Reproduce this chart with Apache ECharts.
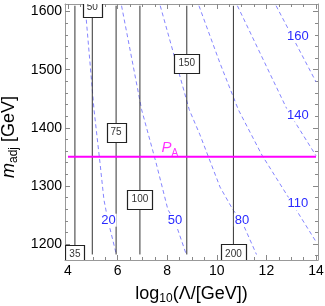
<!DOCTYPE html>
<html><head><meta charset="utf-8">
<script src="https://cdn.jsdelivr.net/npm/echarts@6/dist/echarts.min.js"></script>
<style>html,body{margin:0;padding:0;background:#fff}#c{width:325px;height:306px}</style>
</head><body><div id="c"></div>
<script>
// ---- axes ----
const xRange = [3.88, 14.08];
const yRange = [1172.5, 1613];
const xTicks = [4, 6, 8, 10, 12, 14];
const xMinorTicks = [4, 4.5, 5, 5.5, 6, 6.5, 7, 7.5, 8, 8.5, 9, 9.5, 10, 10.5, 11, 11.5, 12, 12.5, 13, 13.5, 14];
const yTicks = [1200, 1300, 1400, 1500, 1600];
const yMinorTicks = [1180, 1200, 1220, 1240, 1260, 1280, 1300, 1320, 1340, 1360, 1380, 1400, 1420, 1440, 1460, 1480, 1500, 1520, 1540, 1560, 1580, 1600];

// ---- black vertical contours (labelled boxes) ----
const contourLevels = ['35', '50', '75', '100', '150', '200'];
const contourX = [4.28, 4.98, 5.94, 6.90, 8.79, 10.67];
const contourSpan = [1182, 1610];
const boxY = [1182, 1607, 1392, 1277, 1511, 1183];

// ---- blue dashed contours ----
const c20x = [4.69, 5.05, 5.29, 5.45, 5.61, 5.95];
const c20y = [1610, 1431, 1340, 1276, 1241, 1182];
const c50x = [6.16, 6.97, 7.55, 8.03, 8.32, 8.77];
const c50y = [1610, 1431, 1340, 1259, 1238, 1182];
const c80x = [7.72, 8.89, 9.32, 10.13, 10.65, 11.02, 11.60];
const c80y = [1610, 1431, 1388, 1298, 1259, 1238, 1182];
const c110x = [9.28, 10.13, 10.87, 11.82, 12.95, 14.0];
const c110y = [1610, 1511, 1431, 1353, 1276, 1204];
const c140x = [10.83, 12.84, 14.0];
const c140y = [1610, 1431, 1352];
const c160x = [12.39, 14.0];
const c160y = [1610, 1479];
const dashLevels = ['20', '50', '80', '110', '140', '160'];
const dashLabelX = [5.63, 8.31, 11.02, 13.27, 13.27, 13.27];
const dashLabelY = [1241, 1241, 1241, 1269, 1422, 1557];

// ---- P_A line ----
const paX = [4, 14];
const paY = 1350;
const paLabelPos = [8.11, 1365];

const FONT = '"Liberation Sans", Arial, sans-serif';
const frameColor = '#999';

function zip(xs, ys) { return xs.map((x, i) => [x, ys[i]]); }

const dashCurves = [[c20x, c20y], [c50x, c50y], [c80x, c80y], [c110x, c110y], [c140x, c140y], [c160x, c160y]];

const series = [];
dashCurves.forEach(([xs, ys]) => {
  series.push({
    type: 'line', data: zip(xs, ys), showSymbol: false, symbol: 'none', silent: true,
    lineStyle: { color: '#8585ff', width: 1, type: [4, 3] }, z: 2
  });
});
contourX.forEach(x => {
  series.push({
    type: 'line', data: [[x, contourSpan[0]], [x, contourSpan[1]]], showSymbol: false, symbol: 'none', silent: true,
    lineStyle: { color: '#333', width: 1 }, z: 3
  });
});
series.push({
  type: 'line', data: [[paX[0], paY], [paX[1], paY]], showSymbol: false, symbol: 'none', silent: true,
  lineStyle: { color: '#ff00ff', width: 2 }, z: 4
});
// blue labels
series.push({
  type: 'custom', z: 5, silent: true,
  data: zip(dashLabelX, dashLabelY),
  renderItem: function (params, api) {
    const p = api.coord([api.value(0), api.value(1)]);
    const t = dashLevels[params.dataIndex];
    return {
      type: 'text', x: p[0], y: p[1],
      style: { text: t, fill: '#2a2aff', font: '13px ' + FONT, align: 'center', verticalAlign: 'middle',
               textAlign: 'center', textVerticalAlign: 'middle', backgroundColor: '#fff', padding: [0, 1] }
    };
  }
});
// boxed labels
series.push({
  type: 'custom', z: 6, silent: true, clip: true,
  data: zip(contourX, boxY),
  renderItem: function (params, api) {
    const p = api.coord([api.value(0), api.value(1)]);
    const t = contourLevels[params.dataIndex];
    const w = 7 + 6 * t.length, h = 19;
    return {
      type: 'group', children: [
        { type: 'rect', shape: { x: Math.round(p[0] - w / 2) + 0.5, y: Math.round(p[1] - h / 2) + 0.5, width: w, height: h },
          style: { fill: '#fff', stroke: '#222', lineWidth: 1.2 } },
        { type: 'text', x: p[0], y: p[1],
          style: { text: t, fill: '#333', font: '10px ' + FONT, align: 'center', verticalAlign: 'middle',
                   textAlign: 'center', textVerticalAlign: 'middle' } }
      ]
    };
  }
});
// P_A label
series.push({
  type: 'scatter', data: [paLabelPos], symbolSize: 0, silent: true, z: 7,
  label: {
    show: true, position: 'inside', formatter: '{i|P}{s|A}',
    rich: {
      i: { fontFamily: FONT, fontStyle: 'italic', fontSize: 15, color: '#ff00ff', lineHeight: 20 },
      s: { fontFamily: FONT, fontSize: 10, color: '#ff00ff', verticalAlign: 'bottom', lineHeight: 11 }
    }
  }
});

function plain(v) { return String(v); }

function xAx(pos, ticks, len, showLine, labels) {
  return {
    type: 'value', position: pos, min: xRange[0], max: xRange[1],
    axisLine: { show: showLine, onZero: false, lineStyle: { color: frameColor, width: 1 } },
    axisTick: { show: true, inside: true, length: len, customValues: ticks, lineStyle: { color: '#888' } },
    axisLabel: labels ? { show: true, customValues: xTicks, formatter: plain, fontSize: 14, color: '#000', fontFamily: FONT, margin: 4 } : { show: false },
    splitLine: { show: false }, minorTick: { show: false }
  };
}
function yAx(pos, ticks, len, showLine, labels) {
  return {
    type: 'value', position: pos, min: yRange[0], max: yRange[1],
    axisLine: { show: showLine, onZero: false, lineStyle: { color: frameColor, width: 1 } },
    axisTick: { show: true, inside: true, length: len, customValues: ticks, lineStyle: { color: '#888' } },
    axisLabel: labels ? { show: true, customValues: yTicks, formatter: plain, fontSize: 14, color: '#000', fontFamily: FONT, margin: 3 } : { show: false },
    splitLine: { show: false }, minorTick: { show: false }
  };
}

const xa0 = xAx('bottom', xTicks, 5, true, true);
xa0.name = 'log{s|10}(Λ/[GeV])';
xa0.nameLocation = 'middle';
xa0.nameGap = 16;
xa0.nameTextStyle = { fontSize: 18, color: '#000', fontFamily: FONT, lineHeight: 22,
  rich: { s: { fontSize: 12, fontFamily: FONT, color: '#000', verticalAlign: 'bottom', lineHeight: 14 } } };

const ya0 = yAx('left', yTicks, 5, true, true);
ya0.name = '{i|m}{s|adj} [GeV]';
ya0.nameLocation = 'middle';
ya0.nameGap = 38;
ya0.nameTextStyle = { fontSize: 18, color: '#000', fontFamily: FONT, lineHeight: 22, padding: [0, 10, 0, 0],
  rich: {
    i: { fontSize: 18, fontStyle: 'italic', fontFamily: FONT, color: '#000', lineHeight: 22 },
    s: { fontSize: 12, fontFamily: FONT, color: '#000', verticalAlign: 'bottom', lineHeight: 14 }
  } };

const option = {
  animation: false,
  backgroundColor: '#fff',
  grid: { left: 65, right: 7, top: 4, bottom: 46, containLabel: false, outerBoundsMode: 'none' },
  xAxis: [xa0, xAx('bottom', xMinorTicks, 3, false, false), xAx('top', xTicks, 5, true, false), xAx('top', xMinorTicks, 3, false, false)],
  yAxis: [ya0, yAx('left', yMinorTicks, 3, false, false), yAx('right', yTicks, 5, true, false), yAx('right', yMinorTicks, 3, false, false)],
  series: series
};
const chart = echarts.init(document.getElementById('c'), null, { renderer: 'canvas' });
chart.setOption(option);
</script></body></html>
